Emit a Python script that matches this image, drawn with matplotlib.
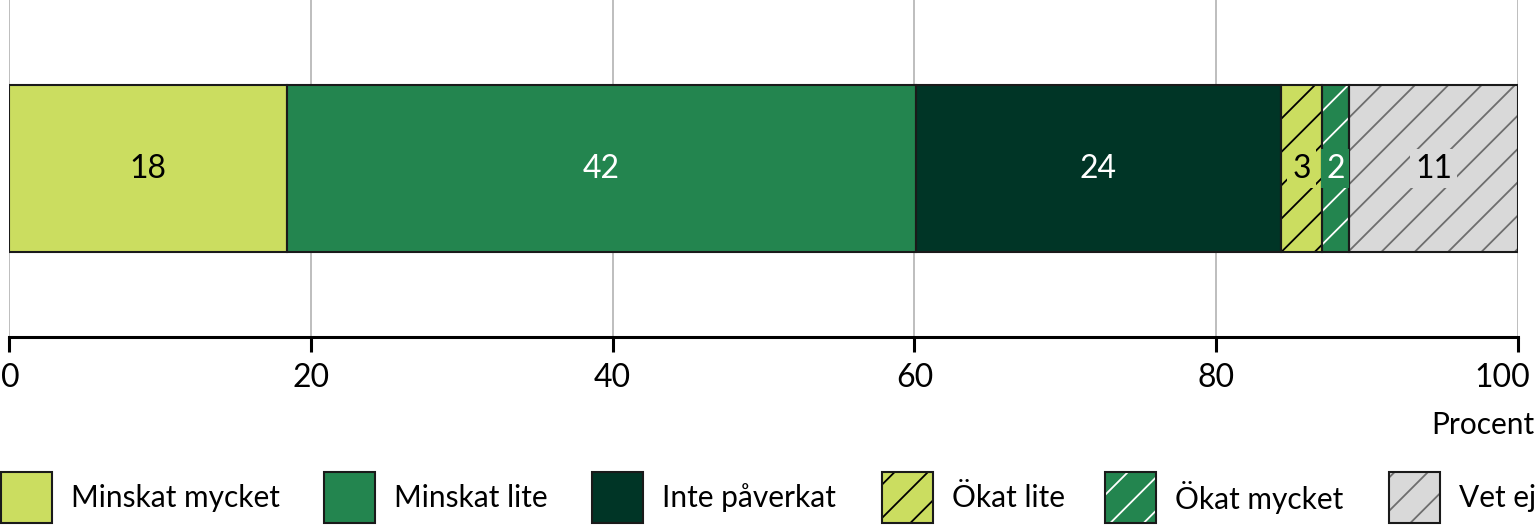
import matplotlib
matplotlib.use("Agg")
import matplotlib.pyplot as plt
from matplotlib.patches import Rectangle
from matplotlib.transforms import ScaledTranslation

plt.rcParams['font.family'] = ['Lato', 'DejaVu Sans']
plt.rcParams['hatch.linewidth'] = 1.3

categories = ["Minskat mycket", "Minskat lite", "Inte påverkat", "Ökat lite", "Ökat mycket", "Vet ej"]
values = [18.4, 41.7, 24.2, 2.7, 1.8, 11.2]
labels = ["18", "42", "24", "3", "2", "11"]
colors = ["#cbdd60", "#23854f", "#003526", "#cbdd60", "#23854f", "#d9d9d9"]
hatches = [None, None, None, "/", "/", "/"]
hatch_colors = [None, None, None, "#000000", "#ffffff", "#6e6e6e"]
text_colors = ["black", "white", "white", "black", "white", "black"]
xticks = [0, 20, 40, 60, 80, 100]
xlabel = "Procent"

FS = 21.5
W, H = 1536, 530
fig = plt.figure(figsize=(W / 100, H / 100), dpi=100)
ax = fig.add_axes([9 / W, 1 - 337 / H, (1518 - 9) / W, 337 / H])

left = 0
for v, lab, c, h, hc, tc in zip(values, labels, colors, hatches, hatch_colors, text_colors):
    if h:
        ax.barh(0, v, left=left, height=0.99, color=c, hatch=h, edgecolor=hc, linewidth=0, zorder=2)
        ax.barh(0, v, left=left, height=0.99, fill=False, edgecolor="#1a1a1a", linewidth=1.5, zorder=3)
        bbox = dict(boxstyle="square,pad=0.15", facecolor=c, edgecolor="none")
    else:
        ax.barh(0, v, left=left, height=0.99, color=c, edgecolor="#1a1a1a", linewidth=1.5, zorder=3)
        bbox = None
    ax.text(left + v / 2, 0, lab, ha="center", va="center", color=tc, fontsize=23, zorder=5, bbox=bbox)
    left += v

ax.set_xlim(0, 100)
ax.set_ylim(-1, 1)
ax.set_yticks([])
ax.set_xticks(xticks)
ax.set_xticklabels([str(t) for t in xticks])
ax.tick_params(axis="x", length=11, width=2.2, pad=8, labelsize=23, color="black")
ax.grid(axis="x", color="#b3b3b3", linewidth=1.2, zorder=0)
for s in ["top", "left", "right"]:
    ax.spines[s].set_visible(False)
ax.spines["bottom"].set_linewidth(2.2)
ax.spines["bottom"].set_zorder(4)

# keep first and last tick labels inside the figure
tls = ax.get_xticklabels()
tls[-1].set_transform(tls[-1].get_transform() + ScaledTranslation(-16 / 100, 0, fig.dpi_scale_trans))
tls[0].set_transform(tls[0].get_transform() + ScaledTranslation(1 / 100, 0, fig.dpi_scale_trans))

fig.text(1534 / W, 1 - 425 / H, xlabel, ha="right", va="center", fontsize=FS)

# legend
handle_x = [0, 323, 591, 881, 1104, 1388]
hy0, hy1 = 472, 523
for x0, name, c, h, hc in zip(handle_x, categories, colors, hatches, hatch_colors):
    rect = (x0 / W + 1 / W, 1 - hy1 / H)
    w, hgt = 51 / W, (hy1 - hy0) / H
    if h:
        fig.add_artist(Rectangle(rect, w, hgt, transform=fig.transFigure, facecolor=c, hatch=h,
                                 edgecolor=hc, linewidth=0))
        fig.add_artist(Rectangle(rect, w, hgt, transform=fig.transFigure, fill=False,
                                 edgecolor="#1a1a1a", linewidth=1.5))
    else:
        fig.add_artist(Rectangle(rect, w, hgt, transform=fig.transFigure, facecolor=c,
                                 edgecolor="#1a1a1a", linewidth=1.5))
    fig.text((x0 + 71) / W, 1 - 498 / H, name, ha="left", va="center", fontsize=FS)

fig.savefig("out.png", dpi=100)
